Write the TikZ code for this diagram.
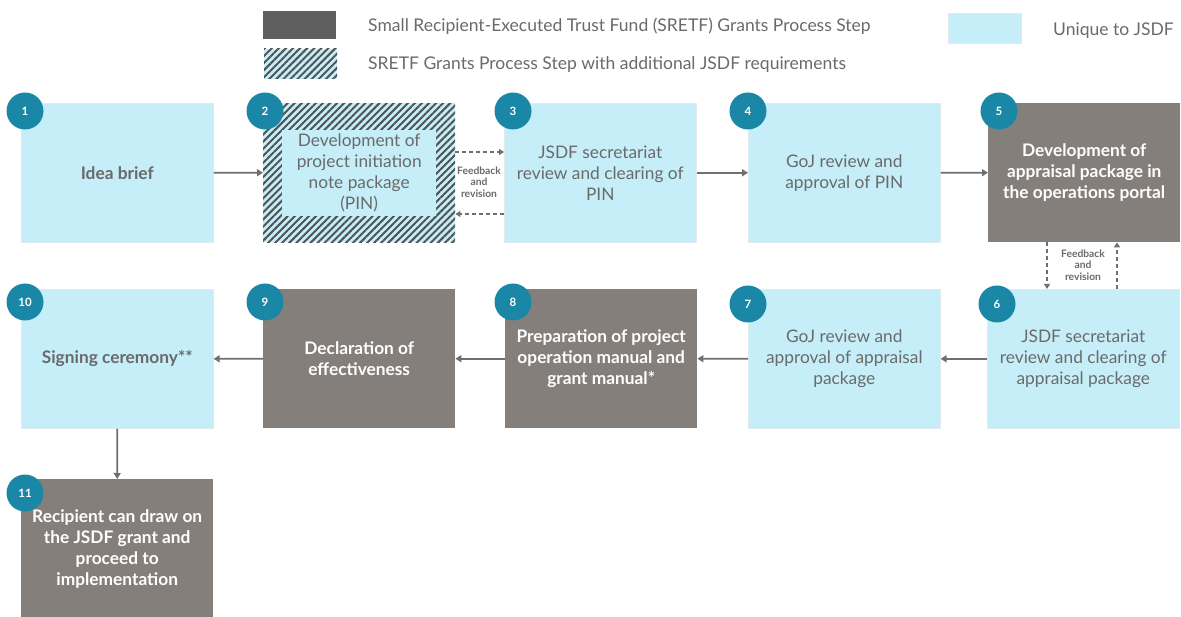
\documentclass[tikz,border=0pt]{standalone}
\usepackage{fontspec}
\setmainfont{Lato}
\usetikzlibrary{arrows.meta,patterns.meta,calc}
\definecolor{jsdf}{HTML}{C5EEF9}
\definecolor{sretf}{HTML}{857F7C}
\definecolor{legdark}{HTML}{5F5F5F}
\definecolor{teal}{HTML}{1A87A6}
\definecolor{txt}{HTML}{6A6A6A}
\definecolor{hatch}{HTML}{4F5355}
\definecolor{arr}{HTML}{6F6F6F}
\begin{document}
\begin{tikzpicture}[x=1pt,y=-1pt,
  box/.style={rectangle,anchor=north west,minimum width=192pt,minimum height=139pt,
    inner sep=2pt,align=center,font=\fontsize{17.3}{21}\selectfont},
  jbox/.style={box,fill=jsdf,draw=jsdf!70!gray!40,line width=0.6pt,text=txt},
  gbox/.style={box,fill=sretf,text=white,font=\fontsize{17.3}{21}\selectfont\bfseries},
  hbox/.style={box,preaction={fill=jsdf},pattern={Lines[angle=45,distance=5pt,line width=2pt]},pattern color=hatch},
  num/.style={circle,fill=teal,minimum size=37pt,inner sep=0pt,text=white,
    font=\fontsize{11.5}{11.5}\selectfont\bfseries},
  flow/.style={draw=arr,line width=1.8pt,-{Triangle[length=6pt,width=7pt]}},
  fb/.style={draw=arr,line width=1.4pt,dash pattern=on 4pt off 3pt,-{Triangle[length=5pt,width=6pt]}},
  fblabel/.style={text=txt,align=center,font=\fontsize{10.3}{11.5}\selectfont\bfseries,inner sep=0pt},
  legtext/.style={anchor=west,text=txt,font=\fontsize{17.5}{20}\selectfont,inner sep=0pt}]
\useasboundingbox (0,0) rectangle (1181,617);

% legend
\node[rectangle,anchor=north west,minimum width=73pt,minimum height=28pt,fill=legdark] (legA) at (263,11) {};
\node[rectangle,anchor=north west,minimum width=73pt,minimum height=30pt,
  preaction={fill=jsdf},pattern={Lines[angle=45,distance=5pt,line width=2pt]},pattern color=hatch] (legB) at (263,48) {};
\node[rectangle,anchor=north west,minimum width=73pt,minimum height=30pt,fill=jsdf,draw=jsdf!70!gray!40,line width=0.6pt] (legC) at (948,13) {};
\node[legtext] (legAt) at (368,26) {Small Recipient-Executed Trust Fund (SRETF) Grants Process Step};
\node[legtext] (legBt) at (368,65) {SRETF Grants Process Step with additional JSDF requirements};
\node[legtext] (legCt) at (1053,31) {Unique to JSDF};

% row 1
\node[jbox,font=\fontsize{17.3}{21}\selectfont\bfseries] (b1) at (21,103) {Idea brief};
\node[hbox] (b2) at (263,103) {};
\node[rectangle,fill=jsdf,minimum width=154pt,minimum height=86pt,inner sep=0pt,align=center,
  text=txt,font=\fontsize{17.3}{21}\selectfont] (b2in) at (b2.center)
  {Development of\\project initiation\\note package\\(PIN)};
\node[jbox] (b3) at (504,103) {JSDF secretariat\\review and clearing of\\PIN};
\node[jbox] (b4) at (748,103) {GoJ review and\\approval of PIN};
\node[gbox] (b5) at (988,103) {Development of\\appraisal package in\\the operations portal};

% row 2
\node[jbox,font=\fontsize{17.3}{21}\selectfont\bfseries] (b10) at (21,289) {Signing ceremony**};
\node[gbox] (b9) at (263,289) {Declaration of\\effectiveness};
\node[gbox] (b8) at (505,289) {Preparation of project\\operation manual and\\grant manual*};
\node[jbox] (b7) at (748,289) {GoJ review and\\approval of appraisal\\package};
\node[jbox] (b6) at (987,289) {JSDF secretariat\\review and clearing of\\appraisal package};

% row 3
\node[gbox,minimum height=140pt] (b11) at (21,479) {Recipient can draw on\\the JSDF grant and\\proceed to\\implementation};

% step numbers
\node[num] (n1) at (25,111) {1};
\node[num] (n2) at (265,111) {2};
\node[num] (n3) at (513,111) {3};
\node[num] (n4) at (748,111) {4};
\node[num] (n5) at (999,111) {5};
\node[num] (n10) at (25,302) {10};
\node[num] (n9) at (265,302) {9};
\node[num] (n8) at (513,302) {8};
\node[num] (n7) at (748,304) {7};
\node[num] (n6) at (997,304) {6};
\node[num] (n11) at (25,493) {11};

% main flow
\draw[flow] (b1.east) -- (b2.west);
\draw[flow] (b3.east) -- (b4.west);
\draw[flow] (b4.east) -- (b5.west);
\draw[flow] (b6.west) -- (b7.east);
\draw[flow] (b7.west) -- (b8.east);
\draw[flow] (b8.west) -- (b9.east);
\draw[flow] (b9.west) -- (b10.east);
\draw[flow] (b10.south) -- (b11.north);

% feedback loops
\draw[fb] (b2.east |- 0,152) -- (b3.west |- 0,152);
\draw[fb] (b3.west |- 0,214) -- (b2.east |- 0,214);
\node[fblabel] (fb1) at (479,182) {Feedback\\and\\revision};
\draw[fb] (b5.south -| 1047,0) -- (b6.north -| 1047,0);
\draw[fb] (b6.north -| 1117,0) -- (b5.south -| 1117,0);
\node[fblabel] (fb2) at (1083,265) {Feedback\\and\\revision};
\end{tikzpicture}
\end{document}
